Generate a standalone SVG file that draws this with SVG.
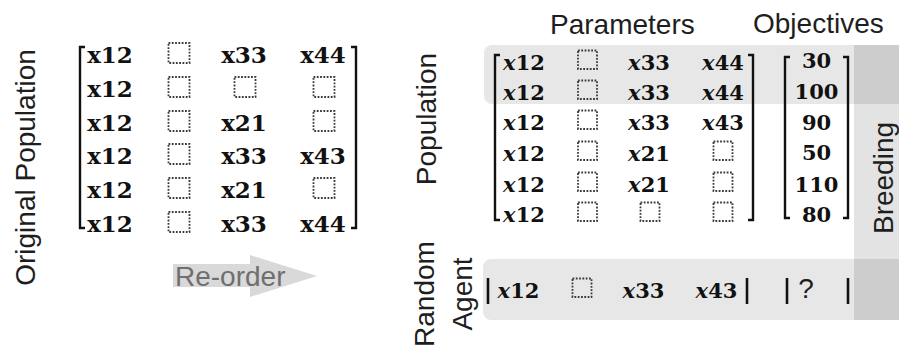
<svg xmlns="http://www.w3.org/2000/svg" width="899" height="347" viewBox="0 0 899 347">
<style>
.lbl{font-family:"Liberation Sans",Arial,sans-serif;font-size:28px;fill:#1e1e1e}
.mb{font-family:"DejaVu Serif",serif;font-weight:bold;font-size:23px;fill:#111;text-anchor:middle}
.mi{font-family:"DejaVu Serif",serif;font-weight:bold;font-size:21px;fill:#111;text-anchor:middle}
.it{font-style:italic}
.sq{fill:none;stroke:#3a3a3a;stroke-width:1.8;stroke-dasharray:1.8 1.5}
.br{fill:none;stroke:#111;stroke-width:2.4}
.bar{stroke:#111;stroke-width:2.6}
.band{fill:#000;fill-opacity:0.095}
.col{fill:#000;fill-opacity:0.11}
</style>
<defs>
<rect id="sqL" class="sq" x="-10.5" y="-20" width="21" height="20"/>
<rect id="sqR" class="sq" x="-9.5" y="-19.5" width="19" height="18.5"/>
</defs>
<rect width="899" height="347" fill="#fff"/>

<g id="backgrounds">
<rect class="band" x="484" y="45" width="430" height="59" rx="8"/>
<rect class="band" x="483" y="259" width="430" height="61" rx="8"/>
<rect class="col" x="854" y="45" width="50" height="275"/>
</g>

<g id="label-original-population">
<text class="lbl" font-size="29" text-anchor="middle" transform="translate(35,167.5) rotate(-90)">Original Population</text>
</g>

<g id="original-matrix">
<path class="br" d="M85,47 H80 V228 H85"/>
<path class="br" d="M351,47 H356 V228 H351"/>
<text class="mb" x="110" y="63">x12</text>
<text class="mb" x="110" y="97">x12</text>
<text class="mb" x="110" y="131">x12</text>
<text class="mb" x="110" y="164">x12</text>
<text class="mb" x="110" y="198">x12</text>
<text class="mb" x="110" y="232">x12</text>
<use href="#sqL" x="179" y="63"/>
<use href="#sqL" x="179" y="97"/>
<use href="#sqL" x="179" y="131"/>
<use href="#sqL" x="179" y="164"/>
<use href="#sqL" x="179" y="198"/>
<use href="#sqL" x="179" y="232"/>
<text class="mb" x="244" y="63">x33</text>
<use href="#sqL" x="245" y="97"/>
<text class="mb" x="244" y="131">x21</text>
<text class="mb" x="244" y="164">x33</text>
<text class="mb" x="244" y="198">x21</text>
<text class="mb" x="244" y="232">x33</text>
<text class="mb" x="323" y="63">x44</text>
<use href="#sqL" x="324" y="97"/>
<use href="#sqL" x="324" y="131"/>
<text class="mb" x="323" y="164">x43</text>
<use href="#sqL" x="324" y="198"/>
<text class="mb" x="323" y="232">x44</text>
</g>

<g id="connectors">
<path d="M173,264 H250 V255 L317,276 L250,297 V287 H173 Z" fill="#d9d9d9"/>
<text class="lbl" x="175" y="286" style="fill:#6f6f6f">Re-order</text>
</g>

<g id="headers">
<text class="lbl" x="550" y="34">Parameters</text>
<text class="lbl" x="753" y="33">Objectives</text>
</g>

<g id="label-population">
<text class="lbl" text-anchor="middle" transform="translate(436,119) rotate(-90)">Population</text>
</g>

<g id="population-matrix">
<path class="br" d="M500,55 H495 V220 H500"/>
<path class="br" d="M748,55 H753 V220 H748"/>
<text class="mi" x="524" y="70"><tspan class="it">x</tspan>12</text>
<text class="mi" x="524" y="100"><tspan class="it">x</tspan>12</text>
<text class="mi" x="524" y="130"><tspan class="it">x</tspan>12</text>
<text class="mi" x="524" y="161"><tspan class="it">x</tspan>12</text>
<text class="mi" x="524" y="192"><tspan class="it">x</tspan>12</text>
<text class="mi" x="524" y="222"><tspan class="it">x</tspan>12</text>
<use href="#sqR" x="587.5" y="70"/>
<use href="#sqR" x="587.5" y="100"/>
<use href="#sqR" x="587.5" y="130"/>
<use href="#sqR" x="587.5" y="161"/>
<use href="#sqR" x="587.5" y="192"/>
<use href="#sqR" x="587.5" y="222"/>
<text class="mi" x="649" y="70"><tspan class="it">x</tspan>33</text>
<text class="mi" x="649" y="100"><tspan class="it">x</tspan>33</text>
<text class="mi" x="649" y="130"><tspan class="it">x</tspan>33</text>
<text class="mi" x="649" y="161"><tspan class="it">x</tspan>21</text>
<text class="mi" x="649" y="192"><tspan class="it">x</tspan>21</text>
<use href="#sqR" x="650" y="222"/>
<text class="mi" x="723" y="70"><tspan class="it">x</tspan>44</text>
<text class="mi" x="723" y="100"><tspan class="it">x</tspan>44</text>
<text class="mi" x="723" y="130"><tspan class="it">x</tspan>43</text>
<use href="#sqR" x="723" y="161"/>
<use href="#sqR" x="723" y="192"/>
<use href="#sqR" x="723" y="222"/>
</g>

<g id="objectives-matrix">
<path class="br" d="M790,57 H785 V218 H790"/>
<path class="br" d="M843,57 H848 V218 H843"/>
<text class="mi" x="816.5" y="68">30</text>
<text class="mi" x="816.5" y="99">100</text>
<text class="mi" x="816.5" y="130">90</text>
<text class="mi" x="816.5" y="160">50</text>
<text class="mi" x="816.5" y="192">110</text>
<text class="mi" x="816.5" y="222">80</text>
</g>

<g id="label-random-agent">
<text class="lbl" text-anchor="middle" transform="translate(434,294) rotate(-90)">Random</text>
<text class="lbl" text-anchor="middle" transform="translate(472,294) rotate(-90)">Agent</text>
</g>

<g id="random-agent-row">
<line class="bar" x1="488" y1="278" x2="488" y2="304"/>
<text class="mi" x="518.5" y="298"><tspan class="it">x</tspan>12</text>
<use href="#sqR" x="582" y="298"/>
<text class="mi" x="643.5" y="298"><tspan class="it">x</tspan>33</text>
<text class="mi" x="716.5" y="298"><tspan class="it">x</tspan>43</text>
<line class="bar" x1="747" y1="278" x2="747" y2="304"/>
<line class="bar" x1="787" y1="278" x2="787" y2="304"/>
<text class="lbl" x="806" y="298" font-size="22" text-anchor="middle">?</text>
<line class="bar" x1="848" y1="278" x2="848" y2="304"/>
</g>

<g id="label-breeding">
<text class="lbl" font-size="27" text-anchor="middle" transform="translate(893,178) rotate(-90)">Breeding</text>
</g>
</svg>
